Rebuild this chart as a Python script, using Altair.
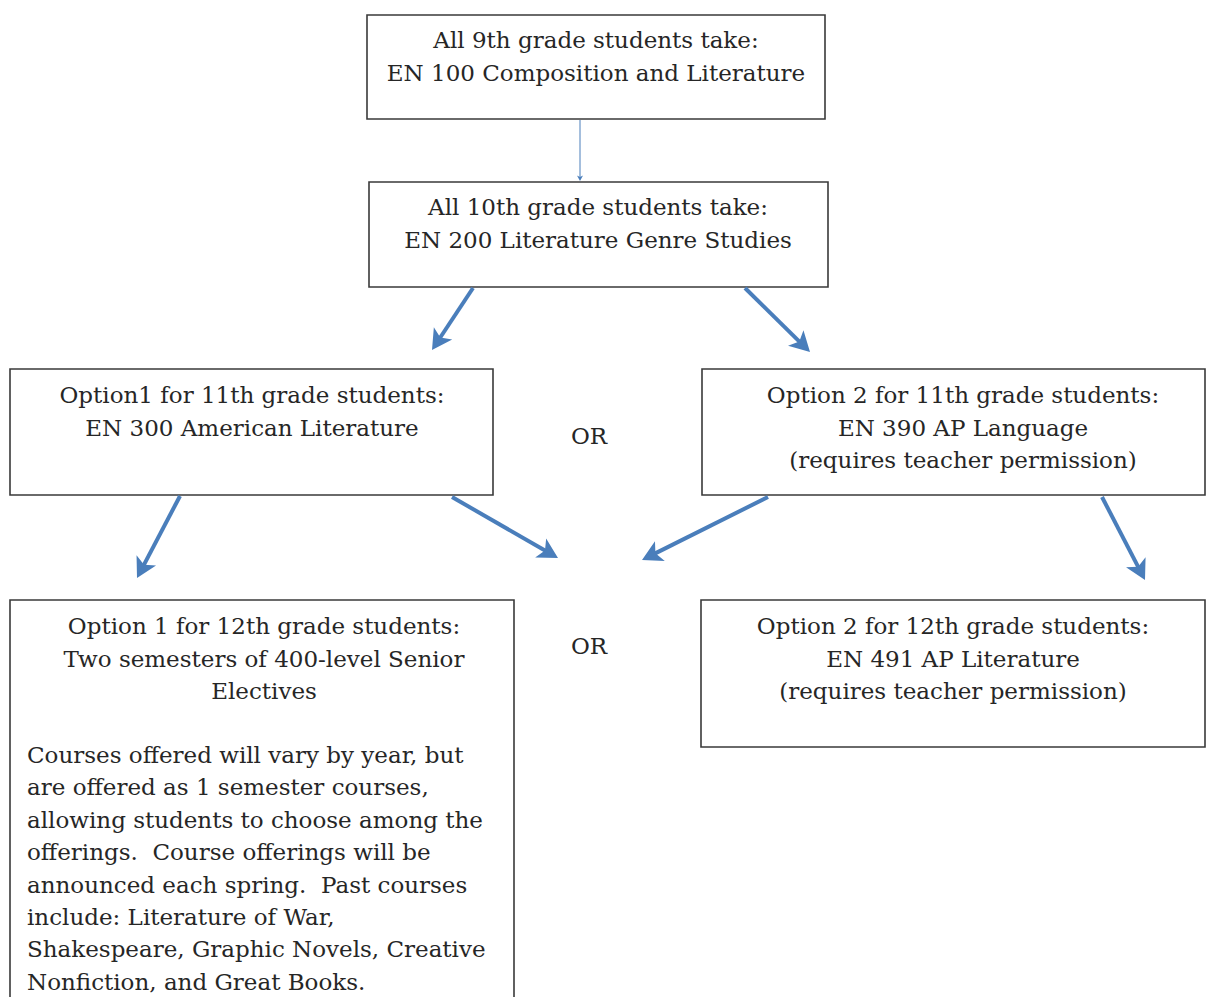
import math
import altair as alt
import pandas as pd

# ---- boxes (pixel layout of the flowchart) ----
box_x1 = [367, 369, 10, 702, 10, 701]
box_x2 = [825, 828, 493, 1205, 514, 1205]
box_y1 = [15, 182, 369, 369, 600, 600]
box_y2 = [119, 287, 495, 495, 1010, 747]

# ---- centred text blocks ----
block_lines = [
    ["All 9th grade students take:", "EN 100 Composition and Literature"],
    ["All 10th grade students take:", "EN 200 Literature Genre Studies"],
    ["Option1 for 11th grade students:", "EN 300 American Literature"],
    ["Option 2 for 11th grade students:", "EN 390 AP Language", "(requires teacher permission)"],
    ["Option 1 for 12th grade students:", "Two semesters of 400-level Senior", "Electives"],
    ["Option 2 for 12th grade students:", "EN 491 AP Literature", "(requires teacher permission)"],
]
block_cx = [596, 598, 252, 963, 264, 953]
block_top = [41, 208, 396, 396, 627, 627]

# ---- left-aligned body text in the 12th-grade option 1 box ----
body_lines = [
    "Courses offered will vary by year, but",
    "are offered as 1 semester courses,",
    "allowing students to choose among the",
    "offerings.\u00a0 Course offerings will be",
    "announced each spring.\u00a0 Past courses",
    "include: Literature of War,",
    "Shakespeare, Graphic Novels, Creative",
    "Nonfiction, and Great Books.",
]
body_x = 27
body_top = 756
line_gap = 32.5
body_gap = 32.4

# ---- OR labels ----
or_text = ["OR", "OR"]
or_x = [589, 589]
or_y = [437, 647]

# ---- arrows: tail -> tip ----
arr_x1 = [580, 473, 745, 180, 452, 768, 1102]
arr_y1 = [120, 288, 288, 496, 497, 497, 497]
arr_x2 = [580, 432, 810, 137, 558, 642, 1145]
arr_y2 = [181, 350, 352, 578, 558, 560, 580]
arr_w = [1.0, 4.0, 4.0, 4.0, 4.0, 4.0, 4.0]
arr_head = [30, 400, 400, 400, 400, 400, 400]

BLUE = "#4a7ebb"
INK = "#262626"
FONT = "DejaVu Serif"
FS = 23

xs = alt.Scale(domain=[8, 1206], nice=False, zero=False)
ys = alt.Scale(domain=[8, 997], nice=False, zero=False, reverse=True)

boxes = pd.DataFrame({"x": box_x1, "x2": box_x2, "y": box_y1, "y2": box_y2})

rows = []
for lines, cx, top in zip(block_lines, block_cx, block_top):
    for i, t in enumerate(lines):
        rows.append({"x": cx, "y": top + i * line_gap, "t": t})
center_df = pd.DataFrame(rows)
or_df = pd.DataFrame({"x": or_x, "y": or_y, "t": or_text})
body_df = pd.DataFrame({"x": [body_x] * len(body_lines),
                        "y": [body_top + i * body_gap for i in range(len(body_lines))],
                        "t": body_lines})

shaft = []
heads = []
for x1, y1, x2, y2, w, hs in zip(arr_x1, arr_y1, arr_x2, arr_y2, arr_w, arr_head):
    dx, dy = x2 - x1, y2 - y1
    L = math.hypot(dx, dy)
    ux, uy = dx / L, dy / L
    back = math.sqrt(hs) / 2 * 1.2
    shaft.append({"x": x1, "y": y1, "x2": x2 - ux * back, "y2": y2 - uy * back, "w": w})
    ang = math.degrees(math.atan2(dx, -dy)) % 360
    heads.append({"x": x2, "y": y2, "a": ang, "s": hs})
shaft_df = pd.DataFrame(shaft)
head_df = pd.DataFrame(heads)

rect = alt.Chart(boxes).mark_rect(fill="white", stroke="#3a3a3a", strokeWidth=1.6).encode(
    x=alt.X("x:Q", scale=xs, axis=None), x2="x2:Q",
    y=alt.Y("y:Q", scale=ys, axis=None), y2="y2:Q")

ctext = alt.Chart(center_df).mark_text(font=FONT, fontSize=FS, color=INK, align="center",
                                       baseline="middle").encode(
    x=alt.X("x:Q", scale=xs, axis=None), y=alt.Y("y:Q", scale=ys, axis=None), text="t:N")

otext = alt.Chart(or_df).mark_text(font=FONT, fontSize=FS, color=INK, align="center",
                                   baseline="middle").encode(
    x=alt.X("x:Q", scale=xs, axis=None), y=alt.Y("y:Q", scale=ys, axis=None), text="t:N")

btext = alt.Chart(body_df).mark_text(font=FONT, fontSize=FS, color=INK, align="left",
                                     baseline="middle").encode(
    x=alt.X("x:Q", scale=xs, axis=None), y=alt.Y("y:Q", scale=ys, axis=None), text="t:N")

shafts = alt.Chart(shaft_df).mark_rule(color=BLUE).encode(
    x=alt.X("x:Q", scale=xs, axis=None), x2="x2:Q",
    y=alt.Y("y:Q", scale=ys, axis=None), y2="y2:Q",
    strokeWidth=alt.StrokeWidth("w:Q", scale=None))

arrowheads = alt.Chart(head_df).mark_point(
    shape="M0,0 L1.1,2 L0,1.5 L-1.1,2 Z", filled=True, color=BLUE, opacity=1).encode(
    x=alt.X("x:Q", scale=xs, axis=None), y=alt.Y("y:Q", scale=ys, axis=None),
    angle=alt.Angle("a:Q", scale=None), size=alt.Size("s:Q", scale=None))

chart = alt.layer(rect, shafts, arrowheads, ctext, otext, btext).properties(
    width=1198, height=989, padding=0, autosize=alt.AutoSizeParams(type="none"),
    background="white"
).configure_view(stroke=None)

chart.save("out.html", embed_options={"renderer": "svg", "actions": False})
